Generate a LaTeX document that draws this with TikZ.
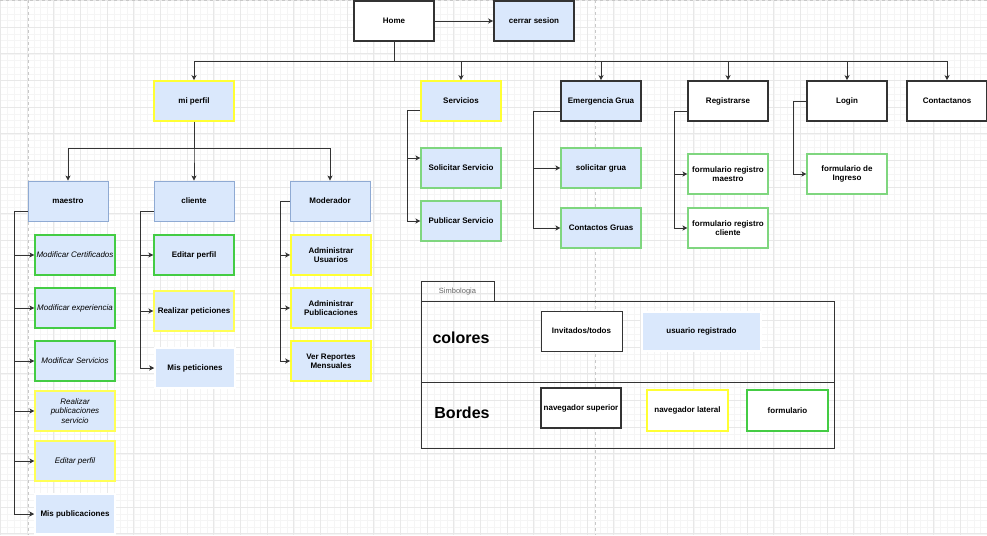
\documentclass[tikz,border=0pt]{standalone}
\usepackage{fontspec}
\setmainfont{Liberation Sans}
\usetikzlibrary{arrows.meta}
\definecolor{bfill}{HTML}{DAE8FC}
\definecolor{bline}{HTML}{8FAAD3}
\definecolor{dk}{HTML}{333333}
\definecolor{yl}{HTML}{FFFF33}
\definecolor{yl2}{HTML}{FFFF55}
\definecolor{gr}{HTML}{44CC44}
\definecolor{gr2}{HTML}{7FD67F}
\definecolor{gmin}{HTML}{F5F5F5}
\definecolor{gmaj}{HTML}{E8E8E8}
\definecolor{pgb}{HTML}{C8C8C8}
\tikzset{
 box/.style={rectangle, minimum width=80pt, minimum height=40pt, inner sep=1pt, align=center, font=\fontsize{8}{9.2}\selectfont\bfseries, text=black},
 topnav/.style={box, draw=dk, line width=1.6pt, fill=white},
 topnavb/.style={topnav, fill=bfill},
 latbox/.style={box, draw=yl, line width=1.6pt, fill=bfill},
 latthin/.style={box, draw=yl2, line width=1.1pt, fill=bfill},
 rolebox/.style={box, draw=bline, line width=0.9pt, fill=bfill},
 bxform/.style={box, draw=gr, line width=1.2pt, fill=bfill},
 bxformb/.style={box, draw=gr2, line width=1.1pt, fill=bfill},
 bxformw/.style={box, draw=gr2, line width=1.1pt, fill=white},
 bxplain/.style={box, draw=white, line width=1.5pt, fill=bfill},
 ital/.style={font=\fontsize{8}{9.2}\selectfont\itshape},
 conn/.style={draw=dk, line width=0.9pt, -{Stealth[length=5pt,width=5pt,inset=1.2pt]}},
}
\begin{document}
\begin{tikzpicture}[x=1pt,y=-1pt]
\useasboundingbox (0,0) rectangle (987,535);
\fill[white] (0,0) rectangle (987,535);
% grid
\foreach \i in {0,...,148} \draw[gmin, line width=0.6pt] ({0.5+\i*6.6667},0) -- ++(0,535);
\foreach \i in {0,...,80} \draw[gmin, line width=0.6pt] (0,{0.5+\i*6.6667}) -- ++(987,0);
\foreach \i in {0,...,37} \draw[gmaj, line width=0.8pt] ({0.5+\i*26.6667},0) -- ++(0,535);
\foreach \i in {0,...,20} \draw[gmaj, line width=0.8pt] (0,{0.5+\i*26.6667}) -- ++(987,0);
% page breaks
\draw[pgb, dashed, line width=0.8pt] (28,0) -- (28,535);
\draw[pgb, dashed, line width=0.8pt] (595,0) -- (595,535);
\draw[pgb, dashed, line width=0.8pt] (0,0.6) -- (987,0.6);

% top level
\node[topnav] (home) at (394,21) {Home};
\node[topnavb] (cerrar) at (534,21) {cerrar sesion};
\node[latbox] (miperfil) at (194,101) {mi perfil};
\node[latbox] (servicios) at (461,101) {Servicios};
\node[topnavb] (emerg) at (601,101) {Emergencia Grua};
\node[topnav] (registrarse) at (728,101) {Registrarse};
\node[topnav] (login) at (847,101) {Login};
\node[topnav] (contact) at (947,101) {Contactanos};

% roles
\node[rolebox] (maestro) at (68,201) {maestro};
\node[rolebox] (cliente) at (194,201) {cliente};
\node[rolebox] (moder) at (330,201) {Moderador};

% maestro children
\node[bxform, ital] (m1) at (75,255) {Modificar Certificados};
\node[bxform, ital] (m2) at (75,308) {Modificar experiencia};
\node[bxform, ital] (m3) at (75,361) {Modificar Servicios};
\node[latthin, ital] (m4) at (75,411) {Realizar\\publicaciones\\servicio};
\node[latthin, ital] (m5) at (75,461) {Editar perfil};
\node[bxplain] (m6) at (75,514) {Mis publicaciones};

% cliente children
\node[bxform] (c1) at (194,255) {Editar perfil};
\node[latthin] (c2) at (194,311) {Realizar peticiones};
\node[bxplain] (c3) at (195,368) {Mis peticiones};

% moderador children
\node[latbox] (d1) at (331,255) {Administrar\\Usuarios};
\node[latbox] (d2) at (331,308) {Administrar\\Publicaciones};
\node[latbox] (d3) at (331,361) {Ver Reportes\\Mensuales};

% servicios children
\node[bxformb] (s1) at (461,168) {Solicitar  Servicio};
\node[bxformb] (s2) at (461,221) {Publicar  Servicio};

% emergencia children
\node[bxformb] (e1) at (601,168) {solicitar grua};
\node[bxformb] (e2) at (601,228) {Contactos Gruas};

% registrarse children
\node[bxformw] (r1) at (728,174) {formulario registro\\maestro};
\node[bxformw] (r2) at (728,228) {formulario registro\\cliente};

% login child
\node[bxformw] (l1) at (847,174) {formulario de\\Ingreso};

% connectors
\draw[conn] (home.east) -- (cerrar.west);
\foreach \t in {miperfil,servicios,emerg,registrarse,login,contact}
  \draw[conn] (home.south) -- ++(0,20) -| (\t.north);
\foreach \t in {maestro,cliente,moder}
  \draw[conn] (miperfil.south) -- ++(0,27) -| (\t.north);
\foreach \t in {m1,m2,m3,m4,m5,m6}
  \draw[conn] ([yshift=-10pt]maestro.west) -- ++(-13,0) |- (\t.west);
\foreach \t in {c1,c2,c3}
  \draw[conn] ([yshift=-10pt]cliente.west) -- ++(-13,0) |- (\t.west);
\foreach \t in {d1,d2,d3}
  \draw[conn] (moder.west) -- ++(-9,0) |- (\t.west);
\draw[conn] ([yshift=-9pt]servicios.west) -- ++(-13,0) |- ([yshift=10pt]s1.west);
\draw[conn] ([yshift=-9pt]servicios.west) -- ++(-13,0) |- (s2.west);
\foreach \t in {e1,e2}
  \draw[conn] ([yshift=-10pt]emerg.west) -- ++(-27,0) |- (\t.west);
\foreach \t in {r1,r2}
  \draw[conn] ([yshift=-10pt]registrarse.west) -- ++(-13,0) |- (\t.west);
\draw[conn] (login.west) -- ++(-13,0) |- (l1.west);

% legend
\draw[dk, line width=0.8pt] (421,281) rectangle (494,301);
\draw[dk, line width=0.9pt] (421,301) rectangle (834,448);
\draw[dk, line width=0.9pt] (421,382) -- (834,382);
\node[font=\fontsize{7.5}{9}\selectfont, text=black!60] (simb) at (457.5,291.5) {Simbologia};
\node[font=\fontsize{16}{18}\selectfont\bfseries] (colores) at (461,338) {colores};
\node[font=\fontsize{16}{18}\selectfont\bfseries] (bordes) at (462,413) {Bordes};
\node[box, draw=dk, line width=0.9pt, fill=white, minimum width=81pt] (inv) at (581.5,331) {Invitados/todos};
\node[bxplain, minimum width=119pt, minimum height=39pt] (ureg) at (701.5,331.5) {usuario registrado};
\node[topnav] (nsup) at (581,408) {navegador superior};
\node[box, draw=yl, line width=1.3pt, fill=white, minimum width=81pt, minimum height=41pt] (nlat) at (687.5,410.5) {navegador lateral};
\node[box, draw=gr, line width=1.5pt, fill=white, minimum width=81pt, minimum height=41pt] (nform) at (787.5,410.5) {formulario};
\end{tikzpicture}
\end{document}
